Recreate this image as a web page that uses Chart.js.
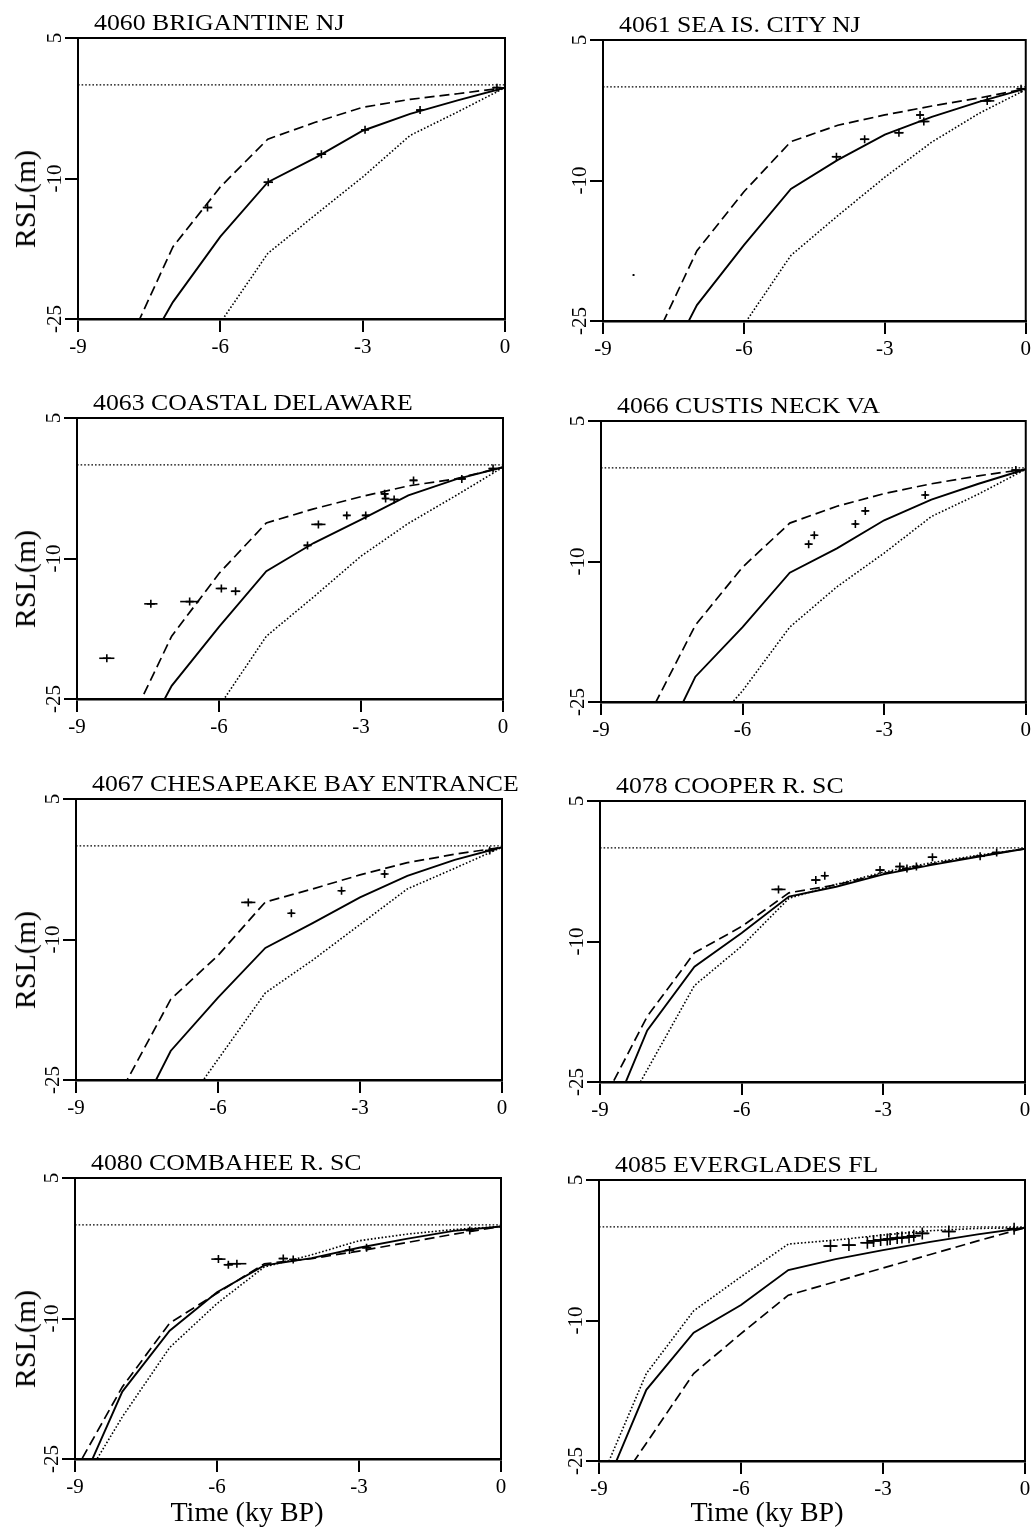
<!DOCTYPE html>
<html>
<head>
<meta charset="utf-8">
<script src="https://cdn.jsdelivr.net/npm/chart.js@4.4.1/dist/chart.umd.min.js"></script>
<style>
  html, body { margin: 0; padding: 0; background: #fff; }
  #page { position: relative; width: 1034px; height: 1531px; overflow: hidden;
          font-family: 'Liberation Serif', 'Times New Roman', serif; color: #000; }
  .panel { position: absolute; width: 517px; height: 380px; }
  .title { position: absolute; font-size: 23px; line-height: 23px; white-space: nowrap;
           transform-origin: 0 0; transform: scaleX(1.12); }
  .ylab { position: absolute; font-size: 30px; line-height: 30px; white-space: nowrap;
          transform: translate(-50%, -50%) rotate(-90deg); }
  .xlab { position: absolute; font-size: 28px; line-height: 28px; white-space: nowrap;
          transform: translate(-50%, -50%); }
</style>
</head>
<body>
<div id="page"></div>
<script>
// station names, one per panel (left to right, top to bottom)
const stations = [
    '4060 BRIGANTINE NJ', '4061 SEA IS. CITY NJ',
    '4063 COASTAL DELAWARE', '4066 CUSTIS NECK VA',
    '4067 CHESAPEAKE BAY ENTRANCE', '4078 COOPER R. SC',
    '4080 COMBAHEE R. SC', '4085 EVERGLADES FL'
];

// model output sampled every 1 ky (null = not drawn)
const modelTimes = [-9, -8, -7, -6, -5, -4, -3, -2, -1, 0];

const solidRSL = [
    [null, -32, -23.2, -16.2, -10.4, -7.8, -4.9, -3.1, -1.65, -0.3],
    [null, -33, -23.3, -16.9, -10.9, -7.8, -5.1, -3.2, -1.6, -0.2],
    [null, -33, -23.6, -17.3, -11.35, -8.35, -5.85, -3.27, -1.55, -0.25],
    [null, -32.7, -22.3, -17.0, -11.2, -8.6, -5.6, -3.4, -1.7, -0.15],
    [null, -31.9, -21.9, -16.2, -10.9, -8.25, -5.5, -3.2, -1.5, -0.15],
    [-31.6, -19.5, -12.7, -9.1, -5.2, -4.15, -2.84, -1.84, -0.95, -0.1],
    [-29.2, -17.8, -11.3, -7.2, -4.33, -3.55, -2.45, -1.5, -0.65, -0.17],
    [-29.4, -17.4, -11.3, -8.35, -4.62, -3.44, -2.48, -1.6, -0.8, -0.1]
];

const dashedRSL = [
    [null, -28.3, -17.3, -10.9, -5.8, -4.0, -2.4, -1.55, -0.95, -0.3],
    [null, -28.1, -17.5, -11.2, -5.85, -4.1, -3.0, -2.05, -1.2, -0.2],
    [null, -28.8, -18.3, -11.6, -6.2, -4.7, -3.4, -2.25, -1.5, -0.25],
    [null, -26.6, -16.8, -10.6, -5.9, -4.1, -2.75, -1.7, -0.85, -0.15],
    [null, -25.75, -16.4, -11.7, -6.0, -4.6, -3.1, -1.8, -0.9, -0.15],
    [-27.7, -18.0, -11.2, -8.4, -4.8, -3.95, -2.75, -1.75, -0.9, -0.1],
    [-26.3, -17.3, -10.5, -7.3, -4.16, -3.6, -2.8, -1.9, -1.0, -0.17],
    [-30.5, -23.1, -15.66, -11.4, -7.3, -5.85, -4.4, -2.95, -1.5, -0.1]
];

const dottedRSL = [
    [null, null, null, -25.4, -18.0, -13.9, -9.85, -5.4, -2.9, -0.3],
    [null, null, null, -25.4, -18.0, -13.75, -9.65, -5.9, -2.85, -0.3],
    [null, null, null, -25.8, -18.3, -14.1, -9.75, -6.25, -3.3, -0.25],
    [null, null, -29.5, -23.8, -17.0, -12.7, -9.1, -5.2, -2.8, -0.15],
    [null, null, -29.9, -22.8, -15.7, -12.2, -8.4, -4.6, -2.4, -0.15],
    [-32.7, -23.7, -14.7, -10.5, -5.4, -3.9, -2.6, -1.6, -0.8, -0.1],
    [-28.9, -20.5, -13.1, -8.4, -4.5, -3.2, -1.7, -1.0, -0.5, -0.17],
    [-27.5, -15.66, -8.97, -5.33, -1.84, -1.41, -0.88, -0.41, -0.17, -0.1]
];

// observed sea-level index points
const obsTime = [
    [-6.27, -4.99, -3.87, -2.95, -1.79, -0.17],
    [-8.35, -4.03, -3.43, -2.7, -2.25, -2.17, -0.82, -0.1],
    [-8.37, -7.44, -6.62, -5.95, -5.65, -4.13, -3.9, -3.3, -2.9, -2.5, -2.48, -2.3, -1.89, -0.87, -0.21],
    [-4.6, -4.48, -3.61, -3.4, -2.13, -0.21],
    [-5.36, -4.45, -3.39, -2.48, -0.26],
    [-5.22, -4.43, -4.24, -3.07, -2.65, -2.5, -2.3, -1.96, -0.95, -0.6],
    [-5.97, -5.76, -5.58, -4.6, -4.39, -3.2, -2.84, -0.66],
    [-4.11, -3.72, -3.33, -3.2, -3.05, -2.91, -2.85, -2.7, -2.6, -2.45, -2.35, -2.17, -1.61, -0.23]
];
const obsRSL = [
    [-13.1, -10.4, -7.4, -4.8, -2.7, -0.3],
    [-20.1, -7.46, -5.6, -4.9, -3.0, -3.7, -1.5, -0.2],
    [-20.65, -14.84, -14.6, -13.2, -13.5, -8.6, -6.36, -5.4, -5.4, -3.1, -3.6, -3.7, -1.66, -1.5, -0.4],
    [-8.15, -7.2, -6.0, -4.6, -2.9, -0.24],
    [-6.04, -7.2, -4.8, -3.0, -0.5],
    [-4.44, -3.44, -2.98, -2.37, -2.0, -2.2, -2.0, -1.0, -0.9, -0.5],
    [-3.66, -4.26, -4.15, -3.6, -3.7, -2.7, -2.45, -0.6],
    [-2.05, -1.95, -1.7, -1.5, -1.4, -1.35, -1.3, -1.2, -1.15, -1.1, -0.95, -0.7, -0.5, -0.2]
];
// half width of the age error bar (ky); 0 = single dated point, no bars
const obsErr = [
    [0.1, 0.1, 0.1, 0.08, 0.08, 0.1],
    [0, 0.1, 0.1, 0.1, 0.08, 0.12, 0.15, 0.1],
    [0.16, 0.14, 0.2, 0.12, 0.1, 0.08, 0.15, 0.05, 0.07, 0.07, 0.07, 0.1, 0.08, 0.08, 0.1],
    [0.05, 0.05, 0.05, 0.05, 0.05, 0.1],
    [0.15, 0.05, 0.05, 0.05, 0.1],
    [0.15, 0.1, 0.05, 0.1, 0.1, 0.1, 0.1, 0.1, 0.1, 0.1],
    [0.15, 0.1, 0.2, 0.1, 0.08, 0.1, 0.1, 0.08],
    [0.15, 0.15, 0.15, 0.15, 0.15, 0.15, 0.15, 0.15, 0.15, 0.15, 0.15, 0.15, 0.15, 0.15]
];

const xTicks = { min: -9, max: 0, step: 3 };
const yTicks = { min: -25, max: 5, step: 15 };
const presentLevel = 0;

// ---- layout (page pixels): plot area left, top, right of each panel
const plotBoxes = [
    [78, 38, 505], [603, 40, 1027],
    [77, 418, 503], [601, 421, 1027],
    [76, 799, 502], [600, 801, 1025],
    [75, 1178, 501], [599, 1180, 1025]
];
const rowTops = [0, 380, 760, 1140];
const PANEL_W = 517, PANEL_H = 380, PLOT_H = 281, XAXIS_H = 40;
const serif = "'Liberation Serif', 'Times New Roman', serif";

const page = document.getElementById('page');

// draws the top/right frame and the horizontal age error bars
const framePlugin = {
    id: 'frame',
    afterDatasetsDraw(chart) {
        const { ctx, chartArea: a, scales: { x, y } } = chart;
        ctx.save();
        ctx.strokeStyle = '#000';
        ctx.lineWidth = 2;
        ctx.beginPath();
        ctx.moveTo(a.left, a.top);
        ctx.lineTo(a.right, a.top);
        ctx.lineTo(a.right, a.bottom);
        ctx.stroke();

        ctx.lineWidth = 1.6;
        chart.data.datasets.forEach(ds => {
            if (!ds.errX) return;
            ds.data.forEach((p, j) => {
                if (!ds.errX[j]) return;
                const py = y.getPixelForValue(p.y);
                ctx.beginPath();
                ctx.moveTo(x.getPixelForValue(p.x - ds.errX[j]), py);
                ctx.lineTo(x.getPixelForValue(p.x + ds.errX[j]), py);
                ctx.stroke();
            });
        });
        ctx.restore();
    }
};

function toPoints(values) {
    const pts = [];
    values.forEach((v, k) => {
        if (v !== null) pts.push({ x: modelTimes[k], y: v });
    });
    return pts;
}

function addText(cls, text, left, top) {
    const el = document.createElement('div');
    el.className = cls;
    el.textContent = text;
    el.style.left = left + 'px';
    el.style.top = top + 'px';
    page.appendChild(el);
}

function makePanel(i) {
    const [left, top, right] = plotBoxes[i];
    const x0 = (i % 2) ? PANEL_W : 0;
    const y0 = rowTops[Math.floor(i / 2)];

    const wrap = document.createElement('div');
    wrap.className = 'panel';
    wrap.style.left = x0 + 'px';
    wrap.style.top = y0 + 'px';
    const canvas = document.createElement('canvas');
    canvas.width = PANEL_W;
    canvas.height = PANEL_H;
    wrap.appendChild(canvas);
    page.appendChild(wrap);

    const line = (points, dash, width) => ({
        type: 'scatter',
        data: points,
        showLine: true,
        borderColor: '#000',
        borderWidth: width,
        borderDash: dash,
        pointRadius: 0,
        clip: 0
    });

    const crossSize = i === 7 ? 6 : 4;
    const datasets = [
        // present sea level, across the whole time axis
        line([{ x: xTicks.min, y: presentLevel }, { x: xTicks.max, y: presentLevel }], [1.6, 2], 1.4),
        line(toPoints(dottedRSL[i]), [1.6, 2], 1.6),
        line(toPoints(dashedRSL[i]), [10, 5], 1.7),
        line(toPoints(solidRSL[i]), [], 1.9),
        {
            type: 'scatter',
            data: obsTime[i].map((t, k) => ({ x: t, y: obsRSL[i][k] })),
            errX: obsErr[i],
            pointStyle: 'cross',
            pointRadius: ctx => obsErr[i][ctx.dataIndex] ? crossSize : 1,
            pointBorderWidth: 1.6,
            borderColor: '#000',
            backgroundColor: '#000'
        }
    ];

    const grid = {
        display: true,
        drawOnChartArea: false,
        drawTicks: true,
        tickLength: 13,
        color: '#000',
        lineWidth: 2
    };

    new Chart(canvas, {
        type: 'scatter',
        data: { datasets },
        options: {
            responsive: false,
            animation: false,
            devicePixelRatio: 1,
            layout: {
                padding: {
                    left: 0,
                    right: x0 + PANEL_W - right,
                    top: top - y0,
                    bottom: PANEL_H - (top - y0) - PLOT_H - XAXIS_H
                }
            },
            plugins: { legend: { display: false }, tooltip: { enabled: false } },
            scales: {
                x: {
                    type: 'linear',
                    min: xTicks.min,
                    max: xTicks.max,
                    ticks: { stepSize: xTicks.step, color: '#000', padding: 3,
                             font: { family: serif, size: 21 } },
                    grid: grid,
                    border: { display: true, color: '#000', width: 2.5 },
                    afterFit: s => { s.height = XAXIS_H; }
                },
                y: {
                    type: 'linear',
                    min: yTicks.min,
                    max: yTicks.max,
                    ticks: { stepSize: yTicks.step, color: '#000', padding: -4,
                             minRotation: 90, maxRotation: 90, crossAlign: 'center',
                             font: { family: serif, size: 21 } },
                    grid: grid,
                    border: { display: true, color: '#000', width: 2 },
                    afterFit: s => { s.width = left - x0; }
                }
            }
        },
        plugins: [framePlugin]
    });

    addText('title', stations[i], left + 16, top - 27);
    if (i % 2 === 0) addText('ylab', 'RSL(m)', 25, top + 161);
    if (i >= 6) addText('xlab', 'Time (ky BP)', (i % 2 ? 767 : 247), 1512);
}

document.addEventListener('DOMContentLoaded', () => {
    stations.forEach((s, i) => makePanel(i));
});
</script>
</body>
</html>
